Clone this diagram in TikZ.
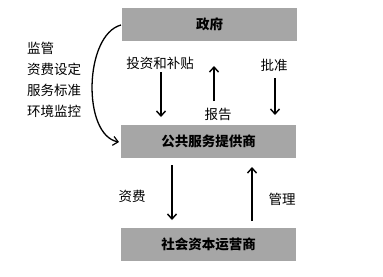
\documentclass[tikz,border=0pt]{standalone}
\usepackage{fontspec}
\setmainfont{Noto Sans CJK SC}
\usetikzlibrary{arrows.meta}
\begin{document}
\begin{tikzpicture}[x=1pt,y=-1pt,
  box/.style={fill=boxgray,draw=none,minimum width=175pt,minimum height=33pt,inner sep=0pt,font=\fontsize{13.5}{15}\selectfont\bfseries},
  lbl/.style={font=\fontsize{13.5}{15}\selectfont,inner sep=0pt},
  arr/.style={line width=1.6pt,-{Straight Barb[length=5pt,width=9pt,line width=1.4pt]}}]
\definecolor{boxgray}{HTML}{A6A6A6}
\useasboundingbox (0,0) rectangle (383,276);
\node[box] (gov) at (209.5,24.5) {政府};
\node[box] (psp) at (208.5,141.5) {公共服务提供商};
\node[box] (sco) at (208.5,244) {社会资本运营商};
% labels
\node[lbl] (l1) at (160,63) {投资和补贴};
\node[lbl] (l2) at (218,114) {报告};
\node[lbl] (l3) at (274,65) {批准};
\node[lbl] (l4) at (132,196) {资费};
\node[lbl] (l5) at (282,199) {管理};
\node[lbl,align=left,anchor=north west,font=\fontsize{13.5}{21}\selectfont] (l6) at (27,42) {监管\\资费设定\\服务标准\\环境监控};
% arrow endpoints
\coordinate (a1s) at (161,72); \coordinate (a1e) at (161,117);
\coordinate (a2s) at (214,101); \coordinate (a2e) at (214,66);
\coordinate (a3s) at (275,78); \coordinate (a3e) at (275,115);
\coordinate (a4s) at (172,165); \coordinate (a4e) at (172,220);
\coordinate (a5s) at (252,221); \coordinate (a5e) at (252,167);
\draw[arr] (a1s) -- (a1e);
\draw[arr] (a2s) -- (a2e);
\draw[arr] (a3s) -- (a3e);
\draw[arr] (a4s) -- (a4e);
\draw[arr] (a5s) -- (a5e);
\coordinate (cs) at (121,25);
\coordinate (ce) at (119,142);
\draw[line width=1.3pt,-{Straight Barb[length=5pt,width=9pt,line width=1.2pt]}] (cs) .. controls (84,35) and (82,135) .. (ce);
\end{tikzpicture}
\end{document}
